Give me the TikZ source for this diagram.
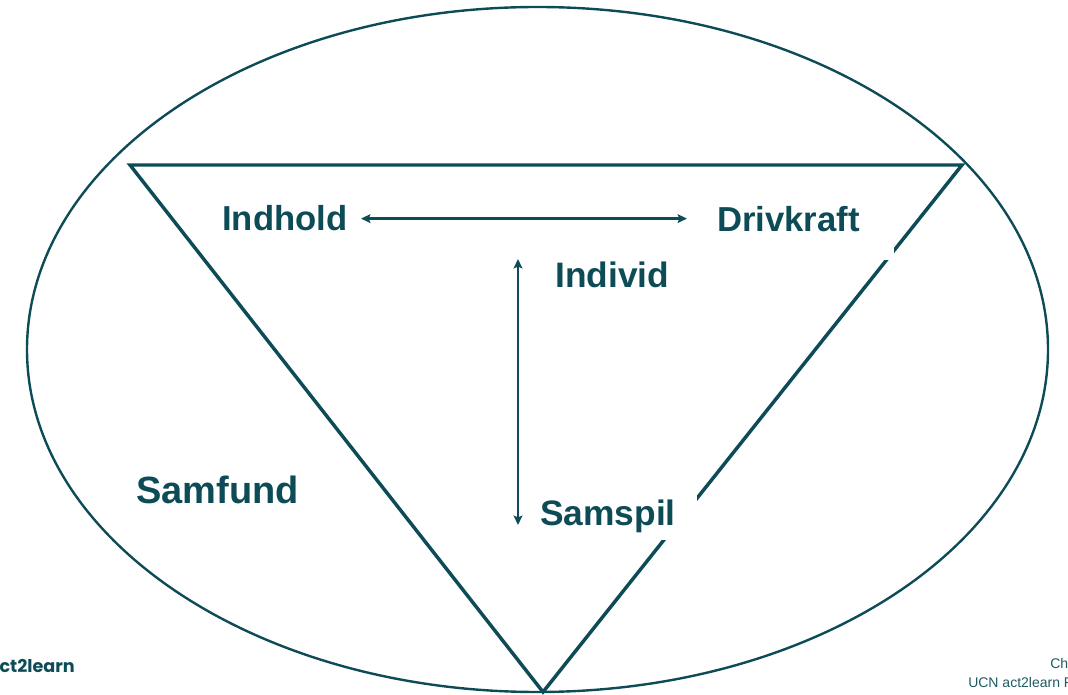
\documentclass[tikz,border=0pt]{standalone}
\usepackage{fontspec}
\setmainfont{Liberation Sans}
\newfontfamily\logofont{Poppins}
\usetikzlibrary{arrows.meta}
\definecolor{ucn-teal}{HTML}{0D4C57}
\definecolor{ucn-grey}{HTML}{1F5A64}

\tikzset{
  keyword/.style={text=ucn-teal, inner sep=0pt, anchor=base west,
    font=\bfseries\fontsize{26}{30}\selectfont},
  cover/.style={fill=white, align=left},
  link/.style={{Stealth[length=7pt,width=6.5pt,inset=1.2pt]}-{Stealth[length=7pt,width=6.5pt,inset=1.2pt]},
    line width=1.7pt, color=ucn-teal},
  footnote/.style={text=ucn-grey, inner sep=0pt, anchor=base west,
    font=\fontsize{10.5}{12}\selectfont},
}

\begin{document}
\begin{tikzpicture}[x=0.75pt, y=-0.75pt]
    \useasboundingbox (0,0) rectangle (1068,695);
    % society ellipse and the inverted triangle
    \draw[line width=1.8pt, color=ucn-teal] (537.5,349.5) ellipse [x radius=510.5, y radius=342.5];
    \draw[line width=2.6pt, color=ucn-teal, line join=miter]
      (130,165) -- (962,165) -- (543,692) -- cycle;

    \node[keyword] (indhold) at (222,231) {Indhold};
    \node[keyword, cover, text width=132.75pt, minimum height=60.75pt]
      (drivkraft) at (717,232) {Drivkraft};
    \node[keyword, font=\bfseries\fontsize{26.5}{30}\selectfont]
      (individ) at (555,288) {Individ};
    \node[keyword, cover, text width=117.75pt, minimum height=36.3pt,
      font=\bfseries\fontsize{26.5}{30}\selectfont] (samspil) at (540,525) {Samspil};
    \node[keyword, font=\bfseries\fontsize{28.5}{32}\selectfont]
      (samfund) at (136,503) {Samfund};

    \coordinate (vtop) at (518,259);
    \coordinate (vbot) at (518,525);
    \draw[link, shorten <=10pt, shorten >=22.5pt]
      (indhold.east) -- (indhold.east -| drivkraft.west);
    \draw[link] (vtop) -- (vbot);

    % cut-off footer texts
    \node[text=ucn-teal, inner sep=0pt, anchor=base east,
      font=\logofont\bfseries\fontsize{13.2}{15}\selectfont] (logo) at (75,672) {act2learn};
    \node[footnote] (chapter) at (1050,668) {Ch};
    \node[footnote] (footer) at (968,687) {UCN act2learn F};
\end{tikzpicture}
\end{document}
